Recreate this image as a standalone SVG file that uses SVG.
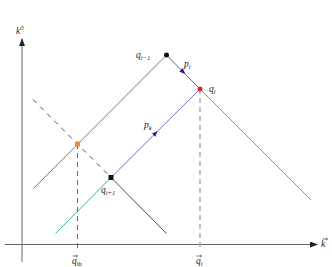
<svg xmlns="http://www.w3.org/2000/svg" width="332" height="267" viewBox="0 0 332 267">
<defs>
<style>
.lbl{font-family:"Liberation Serif",serif;font-style:italic;font-size:9.5px;fill:#222}
.sub{font-size:6.5px}
.ax{stroke:#666;stroke-width:1;fill:none}
.vec{stroke:#222;stroke-width:0.6;fill:none}
</style>
<marker id="ah" markerWidth="8" markerHeight="6" refX="7" refY="3" orient="auto" markerUnits="userSpaceOnUse">
<path d="M0,0 L8,3 L0,6 z" fill="#222"/>
</marker>
<marker id="mb" markerWidth="6" markerHeight="5" refX="3" refY="2.5" orient="auto" markerUnits="userSpaceOnUse">
<path d="M0,0 L6,2.5 L0,5 z" fill="#222299"/>
</marker>
</defs>
<rect width="332" height="267" fill="#fff"/>
<g id="connectors">
<line class="ax" x1="22" y1="262" x2="22" y2="39" marker-end="url(#ah)"/>
<line class="ax" x1="5" y1="244.5" x2="317" y2="244.5" marker-end="url(#ah)"/>
<line x1="166.5" y1="55" x2="33.5" y2="188.5" stroke="#555" stroke-width="0.8"/>
<line x1="33" y1="99.5" x2="111" y2="177.5" stroke="#222" stroke-width="0.8" stroke-dasharray="5,5"/>
<line x1="111" y1="177.5" x2="166.5" y2="233.5" stroke="#222" stroke-width="0.8"/>
<line x1="55.5" y1="233.5" x2="111" y2="177.5" stroke="#33bb77" stroke-width="1"/>
<path d="M111,177.5 L155.5,133.2 L200,89" stroke="#4444cc" stroke-width="0.8" fill="none" marker-mid="url(#mb)"/>
<path d="M166.5,55 L183.2,72 L200,89" stroke="#3333aa" stroke-width="0.8" fill="none" marker-mid="url(#mb)"/>
<line x1="200" y1="89" x2="311" y2="200" stroke="#b050d0" stroke-width="0.9"/>
<line x1="77.5" y1="144" x2="77.5" y2="251" stroke="#444" stroke-width="0.8" stroke-dasharray="5,4"/>
<line x1="200" y1="89" x2="200" y2="251" stroke="#999" stroke-width="1.2" stroke-dasharray="5,4"/>
</g>
<g id="q_im1"><circle cx="166.5" cy="55" r="2.5" fill="#111"/><text class="lbl" x="136" y="58">q<tspan class="sub" dy="2">i−1</tspan></text></g>
<g id="q_i"><circle cx="200" cy="89" r="2.5" fill="#ee2222"/><text class="lbl" x="209" y="92">q<tspan class="sub" dy="2">i</tspan></text></g>
<g id="q_ip1"><rect x="108.5" y="175" width="5" height="5" fill="#111"/><text class="lbl" x="101" y="193">q<tspan class="sub" dy="2">i+1</tspan></text></g>
<g id="orange"><rect x="75" y="141.5" width="5" height="5" fill="#ee8833"/></g>
<g id="labels">
<text class="lbl" x="184" y="67">p<tspan class="sub" dy="2">i</tspan></text>
<text class="lbl" x="144" y="128">p<tspan class="sub" dy="2">k</tspan></text>
<text class="lbl" x="16" y="34">k<tspan class="sub" dy="-4">0</tspan></text>
<text class="lbl" x="321" y="247">k</text>
<path class="vec" d="M322.5,239 h5 M326,237.8 l1.5,1.2 l-1.5,1.2"/>
<text class="lbl" x="72" y="264">q<tspan class="sub" dy="2" font-style="normal">th</tspan></text>
<path class="vec" d="M72.5,256 h5 M76,254.8 l1.5,1.2 l-1.5,1.2"/>
<text class="lbl" x="196" y="264">q<tspan class="sub" dy="2">i</tspan></text>
<path class="vec" d="M196.5,256 h5 M200,254.8 l1.5,1.2 l-1.5,1.2"/>
</g>
</svg>
